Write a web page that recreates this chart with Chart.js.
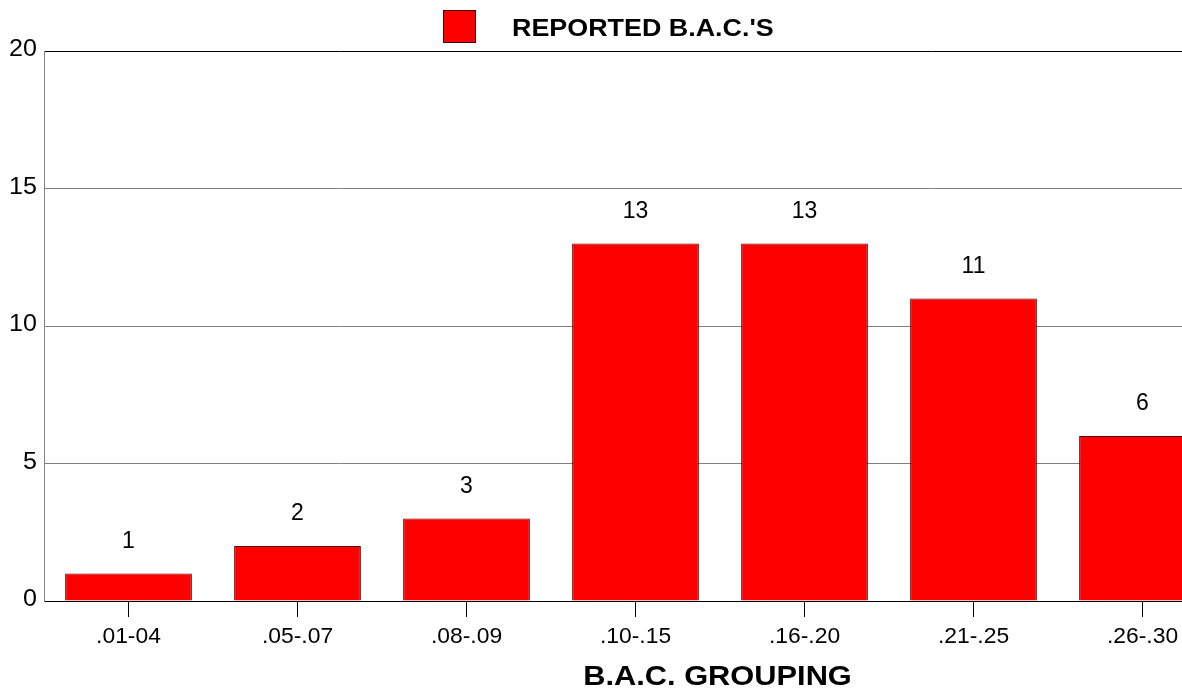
<!DOCTYPE html>
<html>
<head>
<meta charset="utf-8">
<script src="https://cdn.jsdelivr.net/npm/chart.js@4/dist/chart.umd.min.js"></script>
<style>
html,body{margin:0;padding:0;overflow:hidden;background:#fff;width:1182px;height:696px;}
#wrap{position:relative;width:1228px;height:696px;}
</style>
</head>
<body>
<div id="wrap"><canvas id="c" width="1228" height="696"></canvas></div>
<script>
const categories = ['.01-04', '.05-.07', '.08-.09', '.10-.15', '.16-.20', '.21-.25', '.26-.30'];
const reportedValues = [1, 2, 3, 13, 13, 11, 6];
const seriesName = "REPORTED B.A.C.'S";
const xTitle = 'B.A.C. GROUPING';
const yTicks = [0, 5, 10, 15, 20];

const FONT = 'Arial, "Liberation Sans", sans-serif';

// draw text horizontally stretched (text remains real text drawn by canvas)
function drawText(ctx, text, x, y, font, align, sx) {
  ctx.save();
  ctx.font = font;
  ctx.fillStyle = '#000';
  ctx.textBaseline = 'middle';
  ctx.textAlign = 'left';
  const w = ctx.measureText(text).width * sx;
  let left = x;
  if (align === 'center') left = x - w / 2;
  else if (align === 'right') left = x - w;
  ctx.translate(left, y);
  ctx.scale(sx, 1);
  ctx.fillText(text, 0, 0);
  ctx.restore();
}

const textPlugin = {
  id: 'textPlugin',
  afterDraw(chart) {
    const ctx = chart.ctx;
    // legend
    ctx.save();
    ctx.fillStyle = '#ff0000';
    ctx.fillRect(443, 10, 33, 33);
    ctx.strokeStyle = '#400000';
    ctx.lineWidth = 1;
    ctx.strokeRect(443.5, 10.5, 32, 32);
    ctx.restore();
    drawText(ctx, seriesName, 512, 29, 'bold 24px ' + FONT, 'left', 1.12);

    // y tick labels
    const ys = chart.scales.y;
    yTicks.forEach(v => {
      drawText(ctx, String(v), 37, ys.getPixelForValue(v) - 1, '23px ' + FONT, 'right', 1.09);
    });

    // x tick labels
    const xs = chart.scales.x;
    categories.forEach((c, i) => {
      drawText(ctx, c, xs.getPixelForValue(i), 637, '22px ' + FONT, 'center', 1.04);
    });

    // x title
    drawText(ctx, xTitle, 717.5, 677, 'bold 28px ' + FONT, 'center', 1.1);

    // value labels
    const meta = chart.getDatasetMeta(0);
    meta.data.forEach((bar, i) => {
      drawText(ctx, String(reportedValues[i]), bar.x, bar.y - 32, '23px ' + FONT, 'center', 1.0);
    });
  }
};

new Chart(document.getElementById('c'), {
  type: 'bar',
  data: {
    labels: categories,
    datasets: [{
      label: seriesName,
      data: reportedValues,
      backgroundColor: '#ff0000',
      borderColor: '#5a0000',
      borderWidth: 1,
      barPercentage: 0.75,
      categoryPercentage: 1.0
    }]
  },
  options: {
    responsive: false,
    animation: false,
    devicePixelRatio: 1,
    layout: { padding: { top: 51, right: 1, left: 0, bottom: 0 } },
    plugins: {
      legend: { display: false },
      tooltip: { enabled: false }
    },
    scales: {
      x: {
        offset: true,
        grid: {
          offset: false,
          drawOnChartArea: false,
          drawTicks: true,
          tickLength: 16,
          tickColor: '#000',
          tickWidth: 1
        },
        border: { color: '#000', width: 1 },
        ticks: { display: false },
        title: { display: false },
        afterFit(scale) { scale.height = 95; }
      },
      y: {
        min: 0,
        max: 20,
        afterBuildTicks(scale) { scale.ticks = yTicks.map(v => ({ value: v })); },
        grid: {
          drawTicks: false,
          color: (c) => (c.tick && c.tick.value === 20) ? '#000' : '#808080',
          lineWidth: 1
        },
        border: { color: '#808080', width: 1 },
        ticks: { display: false },
        afterFit(scale) { scale.width = 44; }
      }
    }
  },
  plugins: [textPlugin]
});
</script>
</body>
</html>
